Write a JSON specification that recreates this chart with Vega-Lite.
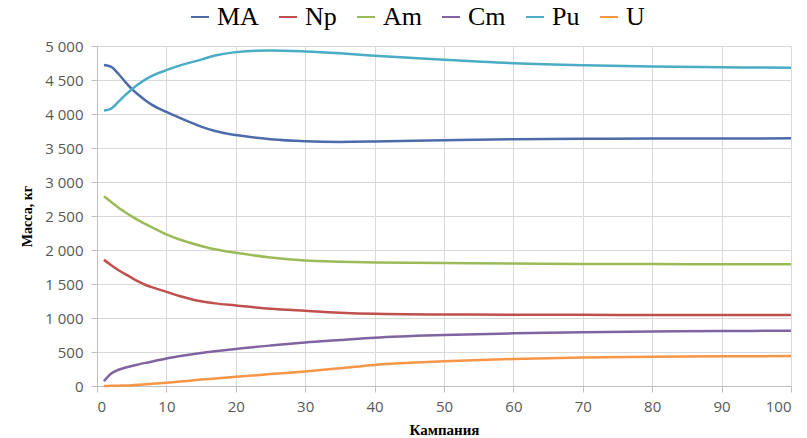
{
  "$schema": "https://vega.github.io/schema/vega-lite/v6.json",
  "width": 694,
  "height": 340,
  "autosize": {"type": "none"},
  "padding": {"left": 97, "top": 46, "right": 16, "bottom": 52},
  "background": "#ffffff",
  "config": {
    "view": {"stroke": null},
    "legend": {"labelFont": "Liberation Serif", "labelFontSize": 26}
  },
  "data": {"values": [
    {"x": 1, "MA": 4720, "Np": 1855, "Am": 2790, "Cm": 70, "Pu": 4050, "U": 0},
    {"x": 2, "MA": 4695, "Np": 1780, "Am": 2710, "Cm": 180, "Pu": 4075, "U": 2},
    {"x": 3, "MA": 4600, "Np": 1710, "Am": 2630, "Cm": 235, "Pu": 4170, "U": 5},
    {"x": 4, "MA": 4480, "Np": 1650, "Am": 2560, "Cm": 268, "Pu": 4270, "U": 8},
    {"x": 5, "MA": 4370, "Np": 1590, "Am": 2495, "Cm": 295, "Pu": 4360, "U": 12},
    {"x": 6, "MA": 4280, "Np": 1535, "Am": 2435, "Cm": 318, "Pu": 4440, "U": 18},
    {"x": 7, "MA": 4200, "Np": 1485, "Am": 2380, "Cm": 340, "Pu": 4510, "U": 25},
    {"x": 8, "MA": 4130, "Np": 1450, "Am": 2330, "Cm": 360, "Pu": 4565, "U": 32},
    {"x": 10, "MA": 4030, "Np": 1385, "Am": 2230, "Cm": 405, "Pu": 4645, "U": 48},
    {"x": 12, "MA": 3940, "Np": 1320, "Am": 2150, "Cm": 440, "Pu": 4715, "U": 65},
    {"x": 15, "MA": 3815, "Np": 1245, "Am": 2060, "Cm": 485, "Pu": 4800, "U": 95},
    {"x": 17, "MA": 3750, "Np": 1215, "Am": 2010, "Cm": 510, "Pu": 4860, "U": 110},
    {"x": 20, "MA": 3690, "Np": 1185, "Am": 1960, "Cm": 545, "Pu": 4910, "U": 135},
    {"x": 25, "MA": 3630, "Np": 1135, "Am": 1890, "Cm": 595, "Pu": 4935, "U": 175},
    {"x": 30, "MA": 3600, "Np": 1105, "Am": 1845, "Cm": 640, "Pu": 4920, "U": 215},
    {"x": 35, "MA": 3590, "Np": 1078, "Am": 1828, "Cm": 675, "Pu": 4893, "U": 262},
    {"x": 40, "MA": 3595, "Np": 1062, "Am": 1818, "Cm": 710, "Pu": 4858, "U": 310},
    {"x": 50, "MA": 3615, "Np": 1052, "Am": 1808, "Cm": 750, "Pu": 4797, "U": 363},
    {"x": 60, "MA": 3630, "Np": 1048, "Am": 1800, "Cm": 775, "Pu": 4747, "U": 397},
    {"x": 70, "MA": 3635, "Np": 1046, "Am": 1795, "Cm": 790, "Pu": 4717, "U": 418},
    {"x": 80, "MA": 3640, "Np": 1045, "Am": 1793, "Cm": 800, "Pu": 4700, "U": 430},
    {"x": 90, "MA": 3640, "Np": 1044, "Am": 1790, "Cm": 808, "Pu": 4688, "U": 436},
    {"x": 100, "MA": 3642, "Np": 1044, "Am": 1789, "Cm": 813, "Pu": 4680, "U": 441}
  ]},
  "transform": [{"fold": ["MA", "Np", "Am", "Cm", "Pu", "U"], "as": ["s", "m"]}],
  "mark": {"type": "line", "interpolate": "monotone", "strokeWidth": 2.5},
  "encoding": {
    "x": {
      "field": "x", "type": "quantitative",
      "scale": {"domain": [0, 100], "nice": false},
      "axis": {
        "values": [0, 10, 20, 30, 40, 50, 60, 70, 80, 90, 100],
        "title": "Кампания",
        "titleFont": "Liberation Serif", "titleFontWeight": "bold", "titleFontSize": 15, "titleColor": "#000000",
        "titlePadding": 8,
        "labelFont": "Open Sans", "labelFontSize": 15, "labelColor": "#595959", "labelPadding": 7,
        "grid": true, "gridColor": "#d9d9d9", "gridWidth": 1,
        "domainColor": "#bfbfbf", "tickColor": "#bfbfbf", "tickSize": 6
      }
    },
    "y": {
      "field": "m", "type": "quantitative",
      "scale": {"domain": [0, 5000], "nice": false},
      "axis": {
        "values": [0, 500, 1000, 1500, 2000, 2500, 3000, 3500, 4000, 4500, 5000],
        "labelExpr": "replace(format(datum.value, ',d'), ',', ' ')",
        "title": "Масса, кг",
        "titleFont": "Liberation Serif", "titleFontWeight": "bold", "titleFontSize": 14, "titleColor": "#000000",
        "titlePadding": 10,
        "labelFont": "Open Sans", "labelFontSize": 15, "labelColor": "#595959", "labelPadding": 8,
        "grid": true, "gridColor": "#d9d9d9", "gridWidth": 1,
        "domainColor": "#bfbfbf", "tickColor": "#bfbfbf", "tickSize": 6
      }
    },
    "color": {
      "field": "s", "type": "nominal",
      "scale": {
        "domain": ["MA", "Np", "Am", "Cm", "Pu", "U"],
        "range": ["#4c6bab", "#c0504d", "#9bbb59", "#8064a2", "#4bacc6", "#f79646"]
      },
      "legend": {
        "title": null,
        "orient": "none",
        "direction": "horizontal",
        "legendX": 90,
        "legendY": -42,
        "symbolType": "stroke",
        "symbolSize": 324,
        "symbolStrokeWidth": 2,
        "labelFont": "Liberation Serif",
        "labelFontSize": 26,
        "labelColor": "#000000",
        "labelOffset": 4,
        "columnPadding": 16
      }
    }
  }
}
